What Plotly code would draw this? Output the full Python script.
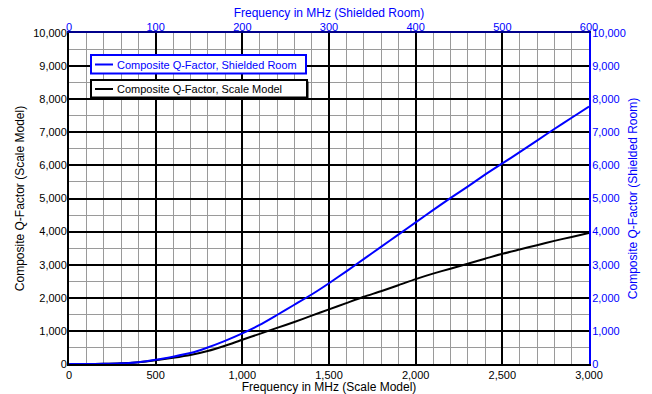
import plotly.graph_objects as go

# Scale model: frequency (MHz) and composite Q-factor
freq_model_mhz = [0, 100, 200, 300, 400, 500, 600, 700, 800, 900, 1000,
                  1100, 1200, 1300, 1400, 1500, 1600, 1700, 1800, 1900, 2000,
                  2100, 2200, 2300, 2400, 2500, 2600, 2700, 2800, 2900, 3000]
q_model = [0, 1, 5, 20, 55, 115, 190, 275, 390, 550, 733,
           910, 1090, 1270, 1460, 1650, 1840, 2030, 2200, 2380, 2565,
           2730, 2880, 3030, 3180, 3330, 3460, 3590, 3720, 3840, 3960]

# Shielded room: frequency (MHz) and composite Q-factor
freq_room_mhz = [0, 20, 40, 60, 80, 100, 120, 140, 160, 180, 200,
                 220, 240, 260, 280, 300, 320, 340, 360, 380, 400,
                 420, 440, 460, 480, 500, 520, 540, 560, 580, 600]
q_room = [0, 1, 5, 20, 55, 125, 220, 330, 500, 700, 925,
          1180, 1480, 1790, 2100, 2440, 2800, 3170, 3540, 3910, 4280,
          4650, 5010, 5360, 5720, 6060, 6400, 6750, 7100, 7440, 7780]

x_ticks_model = [0, 500, 1000, 1500, 2000, 2500, 3000]
x_ticks_room = [0, 100, 200, 300, 400, 500, 600]
y_ticks = [0, 1000, 2000, 3000, 4000, 5000, 6000, 7000, 8000, 9000, 10000]

name_room = "Composite Q-Factor, Shielded Room"
name_model = "Composite Q-Factor, Scale Model"

BLUE = "#0000ff"
FONT = "Arial, Liberation Sans, sans-serif"

W, H = 652, 394
ML, MR, MT, MB = 69, 63, 33, 30
PW, PH = W - ML - MR, H - MT - MB


def px(x):
    return (x - ML) / PW


def py(y):
    return (H - MB - y) / PH


fig = go.Figure()
fig.add_trace(go.Scatter(
    x=freq_room_mhz, y=q_room, xaxis="x2", yaxis="y2", mode="lines",
    line=dict(color=BLUE, width=2, shape="spline", smoothing=0.6),
    name=name_room, showlegend=False))
fig.add_trace(go.Scatter(
    x=freq_model_mhz, y=q_model, xaxis="x", yaxis="y", mode="lines",
    line=dict(color="black", width=2, shape="spline", smoothing=0.6),
    name=name_model, showlegend=False))

# Legend boxes (two separate framed entries as in the original)
shapes = [
    dict(type="rect", xref="paper", yref="paper", layer="above",
         x0=px(91), x1=px(306), y0=py(73.5), y1=py(55),
         fillcolor="white", line=dict(color=BLUE, width=2)),
    dict(type="line", xref="paper", yref="paper", layer="above",
         x0=px(95), x1=px(113), y0=py(64.5), y1=py(64.5),
         line=dict(color=BLUE, width=2)),
    dict(type="rect", xref="paper", yref="paper", layer="above",
         x0=px(92.5), x1=px(308.5), y0=py(99), y1=py(81.5),
         fillcolor="black", line=dict(color="black", width=0)),
    dict(type="rect", xref="paper", yref="paper", layer="above",
         x0=px(91), x1=px(307), y0=py(97.5), y1=py(80),
         fillcolor="white", line=dict(color="black", width=2)),
    dict(type="line", xref="paper", yref="paper", layer="above",
         x0=px(95), x1=px(113), y0=py(89), y1=py(89),
         line=dict(color="black", width=2)),
]
annotations = [
    dict(text=name_room, xref="paper", yref="paper", x=px(115), y=py(64.5),
         xanchor="left", yanchor="middle", showarrow=False,
         font=dict(size=11, color=BLUE)),
    dict(text=name_model, xref="paper", yref="paper", x=px(115), y=py(89),
         xanchor="left", yanchor="middle", showarrow=False,
         font=dict(size=11, color="black")),
]

fig.update_layout(
    width=W, height=H, showlegend=False,
    margin=dict(l=ML, r=MR, t=MT, b=MB),
    paper_bgcolor="white", plot_bgcolor="white",
    font=dict(family=FONT, size=11, color="black"),
    shapes=shapes, annotations=annotations,
    xaxis=dict(
        range=[0, 3000], tickvals=x_ticks_model, tickformat=",d",
        automargin=False,
        showgrid=True, gridcolor="black", gridwidth=1.5,
        minor=dict(dtick=100, showgrid=True, gridcolor="#9a9a9a", gridwidth=1),
        showline=True, linecolor="black", linewidth=2, ticks="",
        zeroline=False,
        title=dict(text="Frequency in MHz (Scale Model)", standoff=0,
                   font=dict(size=12)),
        tickfont=dict(size=11), layer="below traces"),
    xaxis2=dict(
        range=[0, 600], tickvals=x_ticks_room, overlaying="x", side="top",
        anchor="y", showgrid=False, showline=True, linecolor="#00008b",
        automargin=False, ticklabelstandoff=-4,
        linewidth=2, ticks="", zeroline=False,
        tickfont=dict(size=11, color=BLUE),
        title=dict(text="Frequency in MHz (Shielded Room)", standoff=0,
                   font=dict(size=12, color=BLUE))),
    yaxis=dict(
        range=[0, 10000], tickvals=y_ticks, tickformat=",d",
        automargin=False, ticklabelstandoff=-2,
        showgrid=True, gridcolor="black", gridwidth=1.5,
        minor=dict(dtick=500, showgrid=True, gridcolor="#9a9a9a", gridwidth=1),
        showline=True, linecolor="black", linewidth=2, ticks="",
        zeroline=False,
        title=dict(text="Composite Q-Factor (Scale Model)", standoff=6,
                   font=dict(size=12)),
        tickfont=dict(size=11)),
    yaxis2=dict(
        range=[0, 10000], tickvals=y_ticks, tickformat=",d",
        automargin=False, ticklabelstandoff=-1,
        overlaying="y", side="right", anchor="x", showgrid=False,
        showline=True, linecolor=BLUE, linewidth=2, ticks="",
        zeroline=False, tickfont=dict(size=11, color=BLUE),
        title=dict(text="Composite Q-Factor (Shielded Room)", standoff=4,
                   font=dict(size=12, color=BLUE))),
)

fig.write_html("out.html", config={"displayModeBar": False},
               post_script="document.body.style.margin='0';")
